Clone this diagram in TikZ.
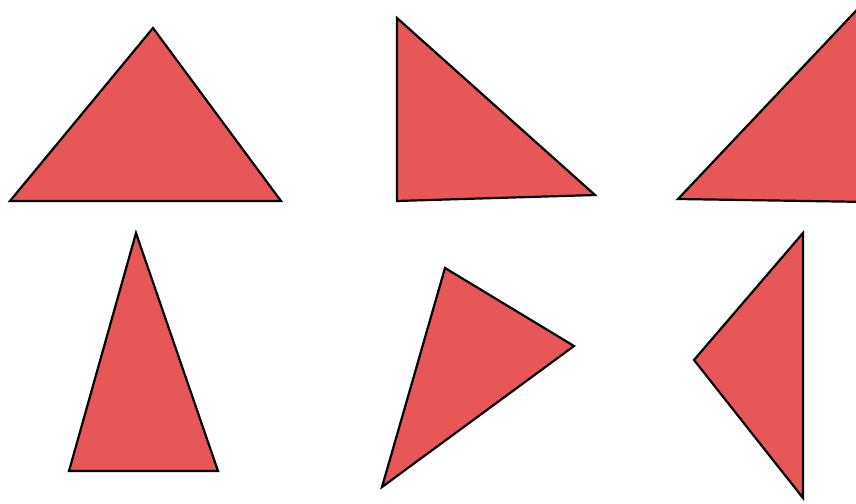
\documentclass[tikz,border=0pt]{standalone}
\usepackage{tikz}
\definecolor{trired}{RGB}{232,87,87}
\tikzset{
  tri/.style={draw=black, fill=trired, line width=2.2pt, line join=miter}
}

\begin{document}
\begin{tikzpicture}[x=1pt, y=-1pt]
  \useasboundingbox (0,0) rectangle (856,503);
  \clip (0,0) rectangle (856,503);
  % top row
  \draw[tri] (10,201) -- (153,28) -- (281,201) -- cycle;
  \draw[tri] (397,18) -- (595,195) -- (397,201) -- cycle;
  \draw[tri] (678,199) -- (870,-4) -- (870,202) -- cycle;
  % bottom row
  \draw[tri] (136,233) -- (218,471) -- (69,471) -- cycle;
  \draw[tri] (445,268) -- (574,346) -- (382,487) -- cycle;
  \draw[tri] (803,233) -- (803,498) -- (694,360) -- cycle;
\end{tikzpicture}
\end{document}
